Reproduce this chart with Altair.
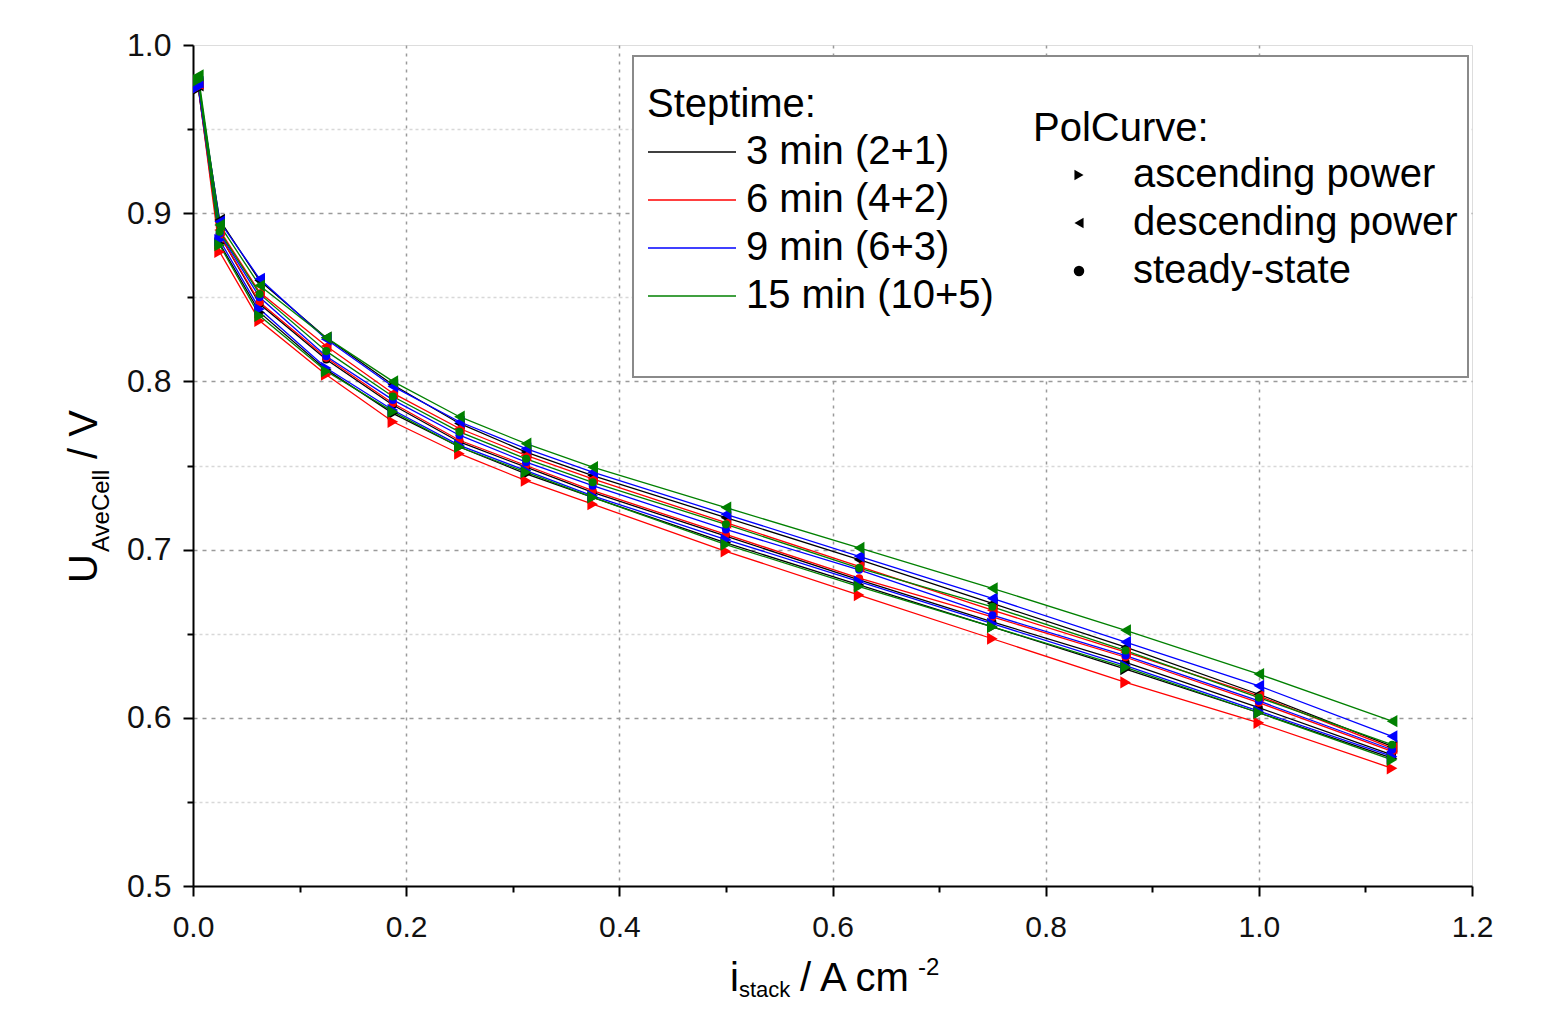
import altair as alt
import pandas as pd

# ---------------- data ----------------
current = [0.005, 0.025, 0.0625, 0.125, 0.1875, 0.25, 0.3125, 0.375, 0.5, 0.625, 0.75, 0.875, 1.0, 1.125]

steptimes = ["3 min (2+1)", "6 min (4+2)", "9 min (6+3)", "15 min (10+5)"]
steptime_colors = ["#000000", "#ff0000", "#0000ff", "#008000"]
polcurves = ["ascending power", "descending power", "steady-state"]
polcurve_shapes = ["triangle-right", "triangle-left", "circle"]

# U_AveCell / V  for each steptime and polcurve
u_3_asc = [0.974, 0.882, 0.841, 0.807, 0.781, 0.761, 0.745, 0.731, 0.704, 0.679, 0.654, 0.629, 0.603, 0.576]
u_3_desc = [0.976, 0.896, 0.860, 0.826, 0.798, 0.775, 0.758, 0.744, 0.719, 0.694, 0.668, 0.642, 0.614, 0.583]
u_3_ss = [0.975, 0.887, 0.846, 0.813, 0.786, 0.764, 0.749, 0.734, 0.708, 0.682, 0.657, 0.633, 0.606, 0.578]

u_6_asc = [0.975, 0.877, 0.836, 0.804, 0.776, 0.757, 0.741, 0.727, 0.699, 0.673, 0.647, 0.621, 0.597, 0.570]
u_6_desc = [0.977, 0.890, 0.853, 0.821, 0.793, 0.772, 0.756, 0.742, 0.716, 0.690, 0.664, 0.639, 0.613, 0.582]
u_6_ss = [0.976, 0.887, 0.847, 0.814, 0.787, 0.765, 0.750, 0.735, 0.709, 0.683, 0.660, 0.636, 0.609, 0.580]

u_9_asc = [0.975, 0.884, 0.843, 0.808, 0.783, 0.762, 0.747, 0.732, 0.706, 0.681, 0.656, 0.631, 0.604, 0.577]
u_9_desc = [0.978, 0.895, 0.861, 0.825, 0.797, 0.776, 0.760, 0.746, 0.721, 0.696, 0.671, 0.645, 0.619, 0.589]
u_9_ss = [0.978, 0.888, 0.850, 0.815, 0.789, 0.768, 0.752, 0.738, 0.712, 0.688, 0.661, 0.637, 0.610, 0.581]

u_15_asc = [0.979, 0.881, 0.839, 0.806, 0.782, 0.761, 0.746, 0.731, 0.703, 0.678, 0.654, 0.630, 0.603, 0.575]
u_15_desc = [0.982, 0.893, 0.857, 0.826, 0.800, 0.779, 0.763, 0.749, 0.725, 0.701, 0.677, 0.652, 0.626, 0.598]
u_15_ss = [0.980, 0.889, 0.852, 0.818, 0.791, 0.770, 0.754, 0.740, 0.715, 0.689, 0.666, 0.640, 0.612, 0.584]

series = {
    ("3 min (2+1)", "ascending power"): u_3_asc,
    ("3 min (2+1)", "descending power"): u_3_desc,
    ("3 min (2+1)", "steady-state"): u_3_ss,
    ("6 min (4+2)", "ascending power"): u_6_asc,
    ("6 min (4+2)", "descending power"): u_6_desc,
    ("6 min (4+2)", "steady-state"): u_6_ss,
    ("9 min (6+3)", "ascending power"): u_9_asc,
    ("9 min (6+3)", "descending power"): u_9_desc,
    ("9 min (6+3)", "steady-state"): u_9_ss,
    ("15 min (10+5)", "ascending power"): u_15_asc,
    ("15 min (10+5)", "descending power"): u_15_desc,
    ("15 min (10+5)", "steady-state"): u_15_ss,
}

x_ticks = [round(i * 0.1, 1) for i in range(13)]
y_ticks = [round(0.5 + i * 0.05, 2) for i in range(11)]

rows = []
for (st, pc), vals in series.items():
    for i, (c, u) in enumerate(zip(current, vals)):
        rows.append({"current": c, "u": u, "steptime": st, "polcurve": pc,
                     "series": st + " | " + pc, "order": i})
df = pd.DataFrame(rows)

FONT = "Liberation Sans"
W, H = 1279, 841

major_x = "abs(datum.value*5 - round(datum.value*5)) < 0.001"
major_y = "abs(datum.value*10 - round(datum.value*10)) < 0.001"

x_axis = alt.Axis(
    values=x_ticks, title=None,
    labelExpr=f"({major_x}) ? format(datum.value, '.1f') : ''",
    tickSize={"condition": {"test": major_x, "value": 10}, "value": 6},
    grid=True,
    gridOpacity={"condition": {"test": f"({major_x}) && datum.value > 0.01 && datum.value < 1.19", "value": 1}, "value": 0},
    gridColor="#9a9a9a", gridDash=[3, 5], gridWidth=1.5,
    labelFont=FONT, labelFontSize=30, labelColor="#111111", labelPadding=16,
    labelOverlap=False, labelFlush=False,
    domainColor="black", domainWidth=2, tickColor="black", tickWidth=2,
)
y_axis = alt.Axis(
    values=y_ticks, title=None,
    labelExpr=f"({major_y}) ? format(datum.value, '.1f') : ''",
    tickSize={"condition": {"test": major_y, "value": 10}, "value": 6},
    grid=True,
    gridOpacity={"condition": {"test": "datum.value > 0.51 && datum.value < 0.99", "value": 1}, "value": 0},
    gridColor={"condition": {"test": major_y, "value": "#9a9a9a"}, "value": "#d8d8d8"},
    gridDash={"condition": {"test": major_y, "value": [4, 5]}, "value": [3, 3]},
    gridWidth=1.5,
    labelFont=FONT, labelFontSize=32, labelColor="#111111", labelPadding=12,
    labelOverlap=False, labelFlush=False,
    domainColor="black", domainWidth=2, tickColor="black", tickWidth=2,
)

x_enc = alt.X("current:Q", scale=alt.Scale(domain=[0, 1.2], nice=False, zero=False), axis=x_axis)
y_enc = alt.Y("u:Q", scale=alt.Scale(domain=[0.5, 1.0], nice=False, zero=False), axis=y_axis)
color_scale = alt.Scale(domain=steptimes, range=steptime_colors)

LEG_FS = 40
color_legend = alt.Legend(
    title="Steptime:", orient="none", legendX=454, legendY=40,
    symbolType="M-4,0H4", symbolSize=484, symbolStrokeWidth=1.5, symbolOffset=25,
    labelFont=FONT, labelFontSize=LEG_FS, labelColor="black", labelLimit=800, labelOffset=34,
    titleFont=FONT, titleFontSize=LEG_FS, titleFontWeight="normal", titleColor="black",
    titlePadding=7, rowPadding=8, padding=0, titleLimit=800,
)
shape_legend = alt.Legend(
    title="PolCurve:", orient="none", legendX=840, legendY=64,
    symbolSize=110, symbolFillColor="black", symbolStrokeColor="black", symbolStrokeWidth=0,
    symbolOffset=26,
    labelFont=FONT, labelFontSize=LEG_FS, labelColor="black", labelLimit=800, labelOffset=34,
    titleFont=FONT, titleFontSize=LEG_FS, titleFontWeight="normal", titleColor="black",
    titlePadding=6, rowPadding=8, padding=0, titleLimit=800,
)

base = alt.Chart(df)

lines = base.mark_line(strokeWidth=1.3, clip=True).encode(
    x=x_enc, y=y_enc,
    color=alt.Color("steptime:N", scale=color_scale, sort=steptimes, legend=color_legend),
    detail="series:N",
    order="order:Q",
)

points = base.transform_calculate(
    msize="datum.polcurve == 'steady-state' ? 65 : 150"
).mark_point(filled=True, opacity=1, clip=True).encode(
    x=x_enc, y=y_enc,
    color=alt.Color("steptime:N", scale=color_scale, sort=steptimes, legend=None),
    shape=alt.Shape("polcurve:N", scale=alt.Scale(domain=polcurves, range=polcurve_shapes),
                    sort=polcurves, legend=shape_legend),
    size=alt.Size("msize:Q", scale=None),
)

one = alt.Data(values=[{"k": 1}])

legend_box = alt.Chart(one).mark_rect(fill="white", stroke="#8a8a8a", strokeWidth=2).encode(
    x=alt.value(440), x2=alt.value(1275), y=alt.value(11), y2=alt.value(332)
)


def txt(text, x, y, size, angle=0):
    return alt.Chart(one).mark_text(
        text=text, font=FONT, fontSize=size, align="left", baseline="alphabetic",
        angle=angle, color="black",
    ).encode(x=alt.value(x), y=alt.value(y))


titles = [
    # x-axis title: i_stack / A cm^-2
    txt("i", 537, 946, 40),
    txt("stack", 546, 952, 22),
    txt("/ A cm", 607, 946, 40),
    txt("-2", 725, 930, 24),
    # y-axis title: U_AveCell / V
    txt("U", -96, 538, 40, 270),
    txt("AveCell", -84, 507, 24, 270),
    txt("/ V", -96, 414, 40, 270),
]

chart = alt.layer(legend_box, lines, points, *titles).properties(
    width=W, height=H,
    padding={"left": 185, "top": 37, "right": 45, "bottom": 118},
    autosize=alt.AutoSizeParams(type="none"),
).configure_view(stroke="black", strokeWidth=2).configure(background="white")

chart.save("out.html", embed_options={"renderer": "svg", "actions": False})
